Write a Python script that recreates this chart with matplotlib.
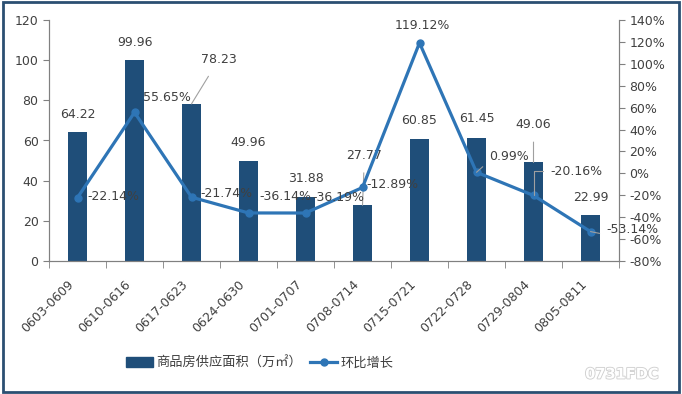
import numpy as np
import matplotlib.pyplot as plt
import matplotlib.patches as patches
import matplotlib.patheffects as pe
import matplotlib.transforms as mtransforms
from matplotlib.ticker import FuncFormatter

plt.rcParams['font.family'] = ['DejaVu Sans', 'Noto Sans CJK SC']

# weekly data
weeks = ['0603-0609', '0610-0616', '0617-0623', '0624-0630', '0701-0707',
         '0708-0714', '0715-0721', '0722-0728', '0729-0804', '0805-0811']
supply = [64.22, 99.96, 78.23, 49.96, 31.88, 27.77, 60.85, 61.45, 49.06, 22.99]
growth = [-22.14, 55.65, -21.74, -36.14, -36.19, -12.89, 119.12, 0.99, -20.16, -53.14]

# label offsets in pixels (label centre relative to mark), and leader flags
bar_off = [(0, 18), (0, 18), (27, 44), (0, 18), (0, 18), (2, 50), (0, 18), (0, 19), (0, 38), (0, 17)]
bar_lead = [False, False, True, False, False, True, False, False, True, False]
pct_off = [(36, 1), (32, 15), (35, 4), (37, 16), (33, 16), (30, 3), (3, 17), (32, 16), (43, 24), (42, 2)]
pct_lead = [False, False, False, False, False, False, False, True, True, True]

bar_color = '#1F4E79'
line_color = '#2E75B6'
text_color = '#404040'
axis_color = '#808080'

fig = plt.figure(figsize=(6.82, 3.94), dpi=100)
ax = fig.add_axes([49 / 682, 1 - 261 / 394, 570 / 682, 241 / 394])
ax2 = ax.twinx()

x = np.arange(len(weeks))
ax.bar(x, supply, width=0.32, color=bar_color, zorder=2)
ax2.plot(x, growth, color=line_color, lw=2.3, marker='o', ms=5, zorder=3)

ax.set_xlim(-0.5, len(weeks) - 0.5)
ax.set_ylim(0, 120)
ax.set_yticks(range(0, 121, 20))
ax2.set_ylim(-80, 140)
ax2.set_yticks(range(-80, 141, 20))
ax2.yaxis.set_major_formatter(FuncFormatter(lambda v, p: '%d%%' % v))

ax.set_xticks(x)
ax.set_xticklabels(weeks, rotation=45, ha='right', rotation_mode='anchor')
ax.set_xticks(np.arange(-0.5, len(weeks), 1), minor=True)
ax.tick_params(axis='x', which='major', length=0, pad=12)
ax.tick_params(axis='x', which='minor', length=5, color=axis_color)
shift = mtransforms.ScaledTranslation(-10 / 100, 0, fig.dpi_scale_trans)
for lbl in ax.get_xticklabels():
    lbl.set_transform(lbl.get_transform() + shift)

for a in (ax, ax2):
    a.spines['top'].set_visible(False)
    for s in ('left', 'right', 'bottom'):
        a.spines[s].set_color(axis_color)
    a.tick_params(axis='y', length=4, color=axis_color, labelcolor=text_color, labelsize=9)
ax.tick_params(axis='x', labelcolor=text_color, labelsize=9)
ax.set_zorder(ax2.get_zorder() - 1)
ax2.patch.set_visible(False)
ax.patch.set_visible(False)

# bar value labels
for i, v in enumerate(supply):
    dx, dy = bar_off[i]
    ap = dict(arrowstyle='-', color='#A0A0A0', lw=0.8, shrinkA=6, shrinkB=0) if bar_lead[i] else None
    ax.annotate('%.2f' % v, (x[i], v), xytext=(dx, dy), textcoords='offset pixels',
                ha='center', va='center', fontsize=9, color=text_color, arrowprops=ap, zorder=5)

# growth labels
for i, v in enumerate(growth):
    dx, dy = pct_off[i]
    ap = None
    if pct_lead[i]:
        cs = 'angle,angleA=0,angleB=90,rad=0' if i == 8 else 'arc3'
        ap = dict(arrowstyle='-', color='#A0A0A0', lw=0.8, shrinkA=3, shrinkB=0,
                  connectionstyle=cs, relpos=(0, 0.5 if i == 8 else 0.1))
    ax2.annotate('%.2f%%' % v, (x[i], v), xytext=(dx, dy), textcoords='offset pixels',
                 ha='center', va='center', fontsize=9, color=text_color, arrowprops=ap, zorder=5)

# legend
h1 = patches.Patch(color=bar_color)
h2, = ax2.plot([], [], color=line_color, lw=2.3, marker='o', ms=5)
fig.legend([h1, h2], ['商品房供应面积（万㎡）', '环比增长'], loc='center',
           bbox_to_anchor=(260 / 682, 1 - 363 / 394), ncol=2, frameon=False,
           fontsize=9.5, labelcolor=text_color, handlelength=2.0, handletextpad=0.3,
           columnspacing=0.6)

# watermark
fig.text(622 / 682, 1 - 374 / 394, '0731FDC', ha='center', va='center', fontsize=10.5,
         color='white', fontweight='bold',
         path_effects=[pe.withStroke(linewidth=1.3, foreground='#D0D0D0')])

# border
fig.patches.append(patches.Rectangle((0.004, 0.005), 0.992, 0.99, transform=fig.transFigure,
                                     fill=False, edgecolor='#2B4F72', lw=2))

fig.savefig('out.png', dpi=100)
